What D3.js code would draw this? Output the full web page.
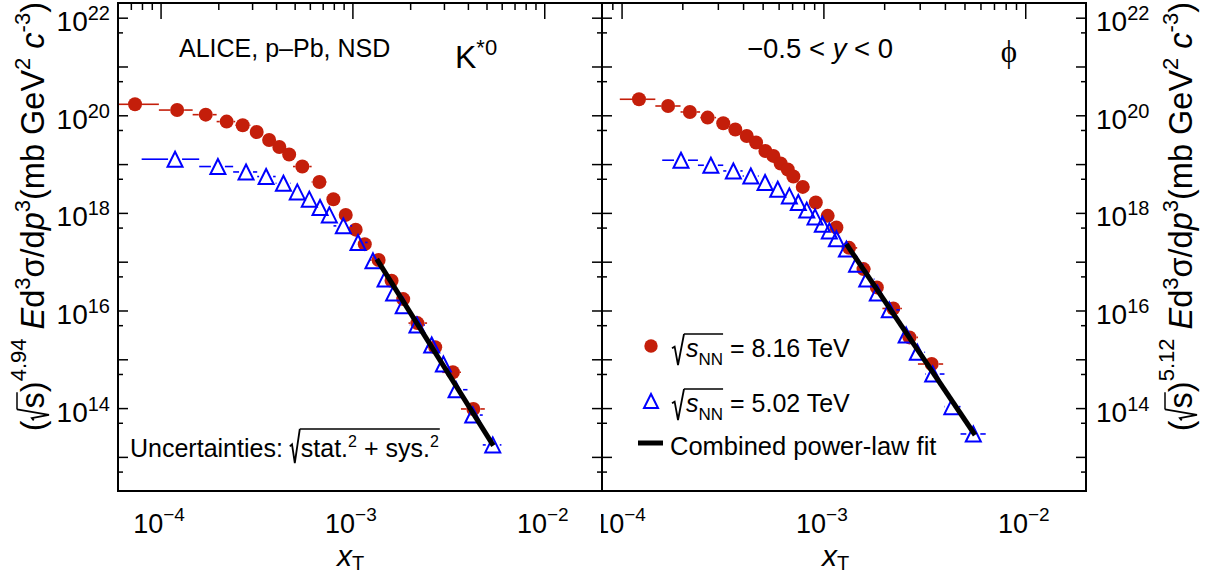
<!DOCTYPE html>
<html>
<head>
<meta charset="utf-8">
<script src="https://cdn.jsdelivr.net/npm/d3@7"></script>
<style>
  body { margin: 0; background: #fff; }
  svg { display: block; }
  text { white-space: pre; }
</style>
</head>
<body>
<div id="chart"></div>
<script>
// axis ranges and labelled decades
var yDomain = [2e12, 2e22];
var xDomainKstar = [6e-5, 2e-2];
var xDomainPhi = [8e-5, 2e-2];
var xLabelExps = [-4, -3, -2];
var yLabelExps = [14, 16, 18, 20, 22];

// K*0, sqrt(s_NN) = 8.16 TeV
var kstar816X = [7.36e-5, 1.22e-4, 1.72e-4, 2.21e-4, 2.68e-4, 3.17e-4, 3.68e-4, 4.16e-4, 4.68e-4, 5.48e-4, 6.73e-4,
                 7.96e-4, 9.23e-4, 1.04e-3, 1.16e-3, 1.37e-3, 1.60e-3, 1.84e-3, 2.18e-3, 2.70e-3, 3.34e-3, 4.27e-3];
var kstar816Y = [1.68e20, 1.28e20, 1.03e20, 7.43e19, 6.24e19, 4.55e19, 3.12e19, 2.24e19, 1.57e19, 8.91e18, 4.31e18,
                 1.91e18, 9.1e17, 4.53e17, 2.29e17, 1.08e17, 4.06e16, 1.71e16, 5.52e15, 1.76e15, 5.41e14, 9.6e13];
var kstar816Edges = [4.90e-5, 9.80e-5, 1.47e-4, 1.96e-4, 2.45e-4, 2.94e-4, 3.43e-4, 3.92e-4, 4.41e-4, 4.90e-4, 6.13e-4, 7.35e-4,
                     8.58e-4, 9.80e-4, 1.10e-3, 1.23e-3, 1.47e-3, 1.72e-3, 1.96e-3, 2.45e-3, 2.94e-3, 3.68e-3, 4.90e-3];

// K*0, sqrt(s_NN) = 5.02 TeV
var kstar502X = [1.19e-4, 1.99e-4, 2.79e-4, 3.55e-4, 4.37e-4, 5.16e-4, 5.96e-4, 6.78e-4, 7.58e-4, 8.97e-4, 1.07e-3,
                 1.28e-3, 1.48e-3, 1.64e-3, 1.84e-3, 2.17e-3, 2.59e-3, 2.98e-3, 3.47e-3, 4.24e-3, 5.39e-3];
var kstar502Y = [1.26e19, 8.91e18, 6.9e18, 5.56e18, 4.06e18, 2.69e18, 1.91e18, 1.29e18, 9.1e17, 5.42e17, 2.48e17,
                 1.04e17, 4.4e16, 2.27e16, 1.25e16, 5.03e15, 1.96e15, 8.0e14, 2.38e14, 7.2e13, 1.76e13];
var kstar502Edges = [7.97e-5, 1.59e-4, 2.39e-4, 3.19e-4, 3.98e-4, 4.78e-4, 5.58e-4, 6.37e-4, 7.17e-4, 7.97e-4, 9.96e-4,
                     1.20e-3, 1.39e-3, 1.59e-3, 1.79e-3, 1.99e-3, 2.39e-3, 2.79e-3, 3.19e-3, 3.98e-3, 4.78e-3, 5.98e-3];

// phi, sqrt(s_NN) = 8.16 TeV
var phi816X = [1.22e-4, 1.70e-4, 2.18e-4, 2.67e-4, 3.19e-4, 3.66e-4, 4.17e-4, 4.64e-4, 5.16e-4, 5.65e-4, 6.14e-4, 6.66e-4,
               7.10e-4, 7.90e-4, 9.17e-4, 1.05e-3, 1.16e-3, 1.34e-3, 1.58e-3, 1.84e-3, 2.22e-3, 2.67e-3, 3.44e-3];
var phi816Y = [2.13e20, 1.55e20, 1.17e20, 8.97e19, 6.86e19, 5.1e19, 3.77e19, 2.76e19, 1.86e19, 1.47e19, 1.03e19, 7.74e18,
               5.56e18, 3.41e18, 1.63e18, 8.69e17, 5.02e17, 1.92e17, 7.05e16, 2.97e16, 1.10e16, 2.81e15, 8.0e14];
var phi816Edges = [9.80e-5, 1.47e-4, 1.96e-4, 2.45e-4, 2.94e-4, 3.43e-4, 3.92e-4, 4.41e-4, 4.90e-4, 5.39e-4, 5.88e-4, 6.37e-4,
                   6.86e-4, 7.35e-4, 8.58e-4, 9.80e-4, 1.10e-3, 1.23e-3, 1.47e-3, 1.72e-3, 1.96e-3, 2.45e-3, 2.94e-3, 3.92e-3];

// phi, sqrt(s_NN) = 5.02 TeV
var phi502X = [1.97e-4, 2.77e-4, 3.58e-4, 4.37e-4, 5.14e-4, 5.94e-4, 6.78e-4, 7.51e-4, 8.27e-4, 9.09e-4, 9.88e-4, 1.07e-3,
               1.16e-3, 1.30e-3, 1.46e-3, 1.64e-3, 1.85e-3, 2.12e-3, 2.57e-3, 2.92e-3, 3.48e-3, 4.33e-3, 5.53e-3];
var phi502Y = [1.2e19, 9.47e18, 7.24e18, 5.72e18, 4.19e18, 3.06e18, 2.23e18, 1.63e18, 1.14e18, 8.28e17, 5.87e17, 4.28e17,
               2.96e17, 1.81e17, 8.91e16, 4.4e16, 2.27e16, 1.03e16, 3.13e15, 1.39e15, 4.99e14, 1.07e14, 2.95e13];
var phi502Edges = [1.59e-4, 2.39e-4, 3.19e-4, 3.98e-4, 4.78e-4, 5.58e-4, 6.37e-4, 7.17e-4, 7.97e-4, 8.76e-4, 9.56e-4, 1.04e-3,
                   1.12e-3, 1.20e-3, 1.39e-3, 1.59e-3, 1.79e-3, 1.99e-3, 2.39e-3, 2.79e-3, 3.19e-3, 3.98e-3, 4.78e-3, 6.37e-3];

// combined power-law fits (end points)
var kstarFitX = [1.34e-3, 5.43e-3];
var kstarFitY = [1.13e17, 1.70e13];
var phiFitX = [1.30e-3, 5.64e-3];
var phiFitY = [2.29e17, 2.81e13];

// ---------- layout ----------
var W = 1207, H = 575;
var plotTop = 3, plotBottom = 491;
var FONT = "'Liberation Sans', Arial, Helvetica, sans-serif";
var RED = "#c41e0a";
var BLUE = "#0000ff";

var svg = d3.select("#chart").append("svg")
    .attr("width", W)
    .attr("height", H)
    .attr("font-family", FONT);

var defs = svg.append("defs");

var y = d3.scaleLog().domain(yDomain).range([plotBottom, plotTop]);

// open triangle like ROOT marker 26
var triangle = {
  draw: function(ctx, size) {
    var r = Math.sqrt(size) / 2;
    ctx.moveTo(0, -r);
    ctx.lineTo(r, r);
    ctx.lineTo(-r, r);
    ctx.closePath();
  }
};

function powLabel(text, e, supShift, supSize) {
  text.text(null);
  text.append("tspan").text("10");
  text.append("tspan")
      .attr("dy", supShift)
      .attr("font-size", supSize)
      .text(e < 0 ? "\u2212" + (-e) : String(e));
}

// text built from runs: plain, italic, sup/sub, radical open/close
function rich(parent, runs, opt) {
  var g = parent.append("g")
      .attr("transform", "translate(" + opt.x + "," + opt.y + ")" + (opt.rotate ? " rotate(" + opt.rotate + ")" : ""));
  var inner = g.append("g");
  var cx = 0, radX = 0, radTop = 0;
  runs.forEach(function(r) {
    if (r.rad === "open") {
      var h = r.h, w = r.w;
      inner.append("path")
          .attr("d", "M" + cx + "," + (-0.38 * h) + "L" + (cx + 0.22 * w) + "," + (-0.45 * h) +
                     "L" + (cx + 0.5 * w) + "," + r.b + "L" + (cx + w) + "," + (-h))
          .attr("fill", "none")
          .attr("stroke", "#000")
          .attr("stroke-width", 1.8);
      radX = cx + w;
      radTop = -h;
      cx += w + (r.gap || 1);
    } else if (r.rad === "close") {
      inner.append("line")
          .attr("x1", radX).attr("x2", cx + (r.ext || 0))
          .attr("y1", radTop).attr("y2", radTop)
          .attr("stroke", "#000")
          .attr("stroke-width", 1.5);
      cx += r.gap || 0;
    } else {
      var t = inner.append("text")
          .attr("x", cx)
          .attr("y", r.dy || 0)
          .attr("font-size", r.size || opt.size)
          .attr("font-style", r.it ? "italic" : null)
          .attr("font-family", r.font || null)
          .attr("fill", "#000")
          .text(r.t);
      cx += t.node().getComputedTextLength();
    }
  });
  var shift = opt.anchor === "end" ? -cx : (opt.anchor === "middle" ? -cx / 2 : 0);
  inner.attr("transform", "translate(" + shift + ",0)");
  return cx;
}

function logTicks(domain, mantissas, eLo, eHi) {
  var out = [];
  d3.range(eLo, eHi + 1).forEach(function(e) {
    mantissas.forEach(function(m) {
      var v = +(m + "e" + e);
      if (v >= domain[0] * 1.0001 && v <= domain[1] * 0.9999) out.push(v);
    });
  });
  return out;
}

function styleAxis(g) {
  g.select(".domain").remove();
  g.selectAll(".tick line").attr("stroke", "#000").attr("stroke-width", 1.5);
}

var yMajor = logTicks(yDomain, [1], 12, 22);
var yMinor = logTicks(yDomain, [5], 12, 22);

function drawPanel(x0, x1, xDomain, red, blue, fit, leftLabels, rightLabels, id) {
  var x = d3.scaleLog().domain(xDomain).range([x0, x1]);
  var xMajor = logTicks(xDomain, [1], -5, -1);
  var xMinor = logTicks(xDomain, [2, 3, 4, 5, 6, 7, 8, 9], -5, -1);

  // clip for the markers
  defs.append("clipPath").attr("id", "clip" + id)
    .append("rect")
      .attr("x", x0).attr("y", plotTop)
      .attr("width", x1 - x0).attr("height", plotBottom - plotTop);
  // clip for the x labels (pad boundary)
  defs.append("clipPath").attr("id", "lab" + id)
    .append("rect")
      .attr("x", x0 === 118 ? 0 : 601).attr("y", 0)
      .attr("width", x0 === 118 ? 601 : W - 601).attr("height", H);

  // bottom x axis
  var gb = svg.append("g").attr("transform", "translate(0," + plotBottom + ")")
      .attr("clip-path", "url(#lab" + id + ")");
  gb.append("g").call(d3.axisBottom(x).tickValues(xMinor).tickSize(-7).tickFormat("")).call(styleAxis);
  var gbm = gb.append("g").call(d3.axisBottom(x).tickValues(xMajor).tickSize(-16).tickFormat("")).call(styleAxis);
  gbm.selectAll(".tick text")
      .attr("x", -2)
      .attr("y", 42)
      .attr("dy", null)
      .attr("font-size", 27)
      .attr("font-family", FONT)
      .attr("fill", "#000")
      .each(function(d) {
        var e = Math.round(Math.log10(d));
        if (xLabelExps.indexOf(e) >= 0) powLabel(d3.select(this), e, -12, 19);
      });

  // top x axis
  var gt = svg.append("g").attr("transform", "translate(0," + plotTop + ")");
  gt.append("g").call(d3.axisTop(x).tickValues(xMinor).tickSize(-7).tickFormat("")).call(styleAxis);
  gt.append("g").call(d3.axisTop(x).tickValues(xMajor).tickSize(-16).tickFormat("")).call(styleAxis);

  // left y axis
  var gl = svg.append("g").attr("transform", "translate(" + x0 + ",0)");
  gl.append("g").call(d3.axisLeft(y).tickValues(yMinor).tickSize(-5).tickFormat("")).call(styleAxis);
  var glm = gl.append("g").call(d3.axisLeft(y).tickValues(yMajor).tickSize(-10).tickFormat("")).call(styleAxis);

  // right y axis
  var gr = svg.append("g").attr("transform", "translate(" + x1 + ",0)");
  gr.append("g").call(d3.axisRight(y).tickValues(yMinor).tickSize(-5).tickFormat("")).call(styleAxis);
  var grm = gr.append("g").call(d3.axisRight(y).tickValues(yMajor).tickSize(-10).tickFormat("")).call(styleAxis);

  function yLabels(sel, xPos, anchor) {
    sel.selectAll(".tick text")
        .attr("x", xPos)
        .attr("y", 13)
        .attr("dy", null)
        .attr("text-anchor", anchor)
        .attr("font-size", 28)
        .attr("font-family", FONT)
        .attr("fill", "#000")
        .each(function(d) {
          var e = Math.round(Math.log10(d));
          if (yLabelExps.indexOf(e) >= 0) powLabel(d3.select(this), e, -11, 20);
        });
  }
  if (leftLabels) yLabels(glm, -8, "end");
  if (rightLabels) yLabels(grm, 10, "start");

  // data
  var plot = svg.append("g").attr("clip-path", "url(#clip" + id + ")");
  drawSeries(plot, x, red, RED, "circle");
  drawSeries(plot, x, blue, BLUE, "triangle");

  var line = d3.line().x(function(d) { return x(d[0]); }).y(function(d) { return y(d[1]); });
  plot.append("path")
      .datum(fit[0].map(function(v, i) { return [v, fit[1][i]]; }))
      .attr("d", line)
      .attr("fill", "none")
      .attr("stroke", "#000")
      .attr("stroke-width", 5);
}

function drawSeries(g, x, s, color, shape) {
  var pts = s[0].map(function(v, i) { return { x: v, y: s[1][i], lo: s[2][i], hi: s[2][i + 1] }; });
  var half = 7;
  var segs = [];
  pts.forEach(function(d) {
    var cx = x(d.x), cy = y(d.y);
    if (x(d.lo) < cx - half) segs.push([x(d.lo), cx - half, cy]);
    if (x(d.hi) > cx + half) segs.push([cx + half, x(d.hi), cy]);
  });
  g.append("g").selectAll("line")
      .data(segs)
      .enter()
      .append("line")
      .attr("x1", function(d) { return d[0]; })
      .attr("x2", function(d) { return d[1]; })
      .attr("y1", function(d) { return d[2]; })
      .attr("y2", function(d) { return d[2]; })
      .attr("stroke", color)
      .attr("stroke-width", 1.6);

  if (shape === "circle") {
    g.append("g").selectAll("circle")
        .data(pts)
        .enter()
        .append("circle")
        .attr("cx", function(d) { return x(d.x); })
        .attr("cy", function(d) { return y(d.y); })
        .attr("r", 7)
        .attr("fill", color);
  } else {
    g.append("g").selectAll("path")
        .data(pts)
        .enter()
        .append("path")
        .attr("transform", function(d) { return "translate(" + x(d.x) + "," + y(d.y) + ")"; })
        .attr("d", d3.symbol().type(triangle).size(225))
        .attr("fill", "none")
        .attr("stroke", color)
        .attr("stroke-width", 2);
  }
}

drawPanel(118, 602, xDomainKstar,
          [kstar816X, kstar816Y, kstar816Edges], [kstar502X, kstar502Y, kstar502Edges],
          [kstarFitX, kstarFitY], true, false, "L");
drawPanel(602, 1086, xDomainPhi,
          [phi816X, phi816Y, phi816Edges], [phi502X, phi502Y, phi502Edges],
          [phiFitX, phiFitY], false, true, "R");

// frame
svg.append("rect")
    .attr("x", 118).attr("y", plotTop)
    .attr("width", 1086 - 118).attr("height", plotBottom - plotTop)
    .attr("fill", "none").attr("stroke", "#000").attr("stroke-width", 2);
svg.append("line")
    .attr("x1", 602).attr("x2", 602).attr("y1", plotTop).attr("y2", plotBottom)
    .attr("stroke", "#000").attr("stroke-width", 2);

// annotations
rich(svg, [{ t: "ALICE, p\u2013Pb, NSD" }], { x: 179, y: 57, size: 25 });
rich(svg, [{ t: "K" }, { t: "*0", size: 22, dy: -13 }], { x: 455, y: 68, size: 32 });
rich(svg, [{ t: "\u22120.5 < " }, { t: "y", it: true }, { t: " < 0" }], { x: 747, y: 58, size: 27.5 });
svg.append("text")
    .attr("x", 1009).attr("y", 62)
    .attr("text-anchor", "middle")
    .attr("font-family", "'Liberation Serif', 'DejaVu Serif', serif")
    .attr("font-size", 31)
    .text("\u03d5");

rich(svg, [
  { t: "Uncertainties: " },
  { rad: "open", h: 28, b: 6, w: 10, gap: 1 },
  { t: "stat." }, { t: "2", size: 16, dy: -10 }, { t: " + sys." }, { t: "2", size: 16, dy: -10 },
  { rad: "close", ext: 1 }
], { x: 130, y: 457, size: 25 });

// legend
svg.append("circle").attr("cx", 651).attr("cy", 346).attr("r", 6.7).attr("fill", RED);
svg.append("path")
    .attr("transform", "translate(651,401)")
    .attr("d", d3.symbol().type(triangle).size(196))
    .attr("fill", "none").attr("stroke", BLUE).attr("stroke-width", 2);
svg.append("line")
    .attr("x1", 638).attr("x2", 663).attr("y1", 443).attr("y2", 443)
    .attr("stroke", "#000").attr("stroke-width", 5);

var legendTexts = ["8.16 TeV", "5.02 TeV"];
[357, 412].forEach(function(by, i) {
  rich(svg, [
    { rad: "open", h: 23, b: 8, w: 12, gap: 2 },
    { t: "s", it: true }, { t: "NN", size: 17, dy: 8 },
    { rad: "close" },
    { t: " = " + legendTexts[i] }
  ], { x: 672, y: by, size: 25 });
});
rich(svg, [{ t: "Combined power-law fit" }], { x: 670, y: 455, size: 25.5 });

// x titles
[337, 822].forEach(function(px) {
  rich(svg, [{ t: "x", it: true }, { t: "T", size: 20, dy: 4 }], { x: px, y: 566, size: 30 });
});

// y titles
function yTitle(xPos, power) {
  rich(svg, [
    { t: "(" },
    { rad: "open", h: 27, b: 5, w: 11, gap: 1 },
    { t: "s" },
    { rad: "close" },
    { t: ")" },
    { t: power, size: 22, dy: -18 },
    { t: " " },
    { t: "E", it: true }, { t: "d" }, { t: "3", size: 22, dy: -14 },
    { t: "\u03c3/d" }, { t: "p", it: true }, { t: "3", size: 22, dy: -14 },
    { t: "(mb GeV" }, { t: "2", size: 22, dy: -14 },
    { t: " " }, { t: "c", it: true }, { t: "-3", size: 22, dy: -14 },
    { t: ")" }
  ], { x: xPos, y: 2, size: 32.5, rotate: -90, anchor: "end" });
}
yTitle(44, "4.94");
yTitle(1192, "5.12");
</script>
</body>
</html>
